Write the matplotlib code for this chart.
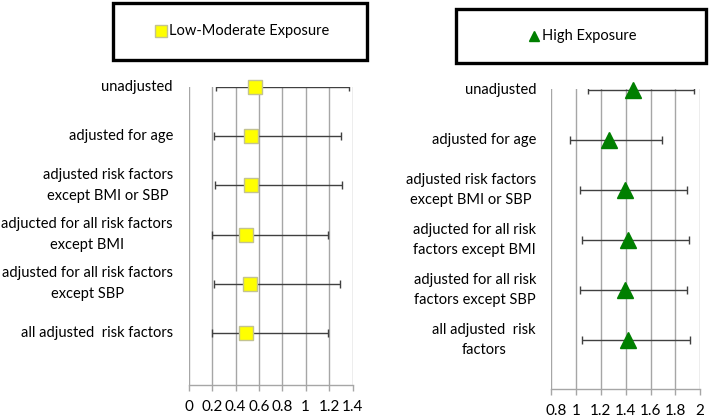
import matplotlib
matplotlib.use("Agg")
import matplotlib.pyplot as plt
import numpy as np
from matplotlib.lines import Line2D
from matplotlib.patches import Rectangle
from matplotlib.transforms import ScaledTranslation

plt.rcParams['font.family'] = ['Lato', 'DejaVu Sans']

W, H = 709, 420
DPI = 100

# ---- data ----
left_labels = ["unadjusted", "adjusted for age", "adjusted risk factors\nexcept BMI or SBP",
               "adjucted for all risk factors\nexcept BMI", "adjusted for all risk factors\nexcept SBP",
               "all adjusted  risk factors"]
right_labels = ["unadjusted", "adjusted for age", "adjusted risk factors\nexcept BMI or SBP",
                "adjucted for all risk\nfactors except BMI", "adjusted for all risk\nfactors except SBP",
                "all adjusted  risk\nfactors"]

low_est = [0.567, 0.535, 0.535, 0.487, 0.527, 0.487]
low_lo = [0.233, 0.219, 0.228, 0.196, 0.219, 0.196]
low_hi = [1.37, 1.30, 1.31, 1.19, 1.29, 1.19]

high_est = [1.459, 1.265, 1.397, 1.416, 1.397, 1.416]
high_lo = [1.098, 0.951, 1.034, 1.048, 1.034, 1.048]
high_hi = [1.951, 1.690, 1.892, 1.910, 1.892, 1.921]

left_ticks = [0, 0.2, 0.4, 0.6, 0.8, 1, 1.2, 1.4]
left_ticklabels = ["0", "0.2", "0.4", "0.6", "0.8", "1", "1.2", "1.4"]
right_ticks = [0.8, 1, 1.2, 1.4, 1.6, 1.8, 2]
right_ticklabels = ["0.8", "1", "1.2", "1.4", "1.6", "1.8", "2"]

fig = plt.figure(figsize=(W / DPI, H / DPI), dpi=DPI)
fig.patch.set_facecolor("white")


def px_axes(x0, x1, ytop, ybot):
    return fig.add_axes([x0 / W, 1 - ybot / H, (x1 - x0) / W, (ybot - ytop) / H])


GRID = "#a6a6a6"
FS = 10.5


def panel(ax, est, lo, hi, ticks, ticklabels, xlim, ylim, marker, mfc, mec, ms):
    n = len(est)
    ypos = np.arange(n, 0, -1)
    est = np.asarray(est); lo = np.asarray(lo); hi = np.asarray(hi)
    ax.set_xlim(*xlim)
    ax.set_ylim(*ylim)
    for t in ticks:
        ax.axvline(t, color=GRID, lw=1.0, zorder=0)
    ax.errorbar(est, ypos, xerr=[est - lo, hi - est], fmt='none', ecolor="#404040",
                elinewidth=1.0, capsize=3, capthick=1.0, zorder=2)
    ax.plot(est, ypos, linestyle='none', marker=marker, ms=ms, mfc=mfc, mec=mec, mew=1.0,
            zorder=3, clip_on=False)
    for s in ['top', 'right', 'left']:
        ax.spines[s].set_visible(False)
    ax.spines['bottom'].set_color(GRID)
    ax.spines['bottom'].set_linewidth(1.0)
    ax.set_xticks(ticks)
    ax.set_xticklabels(ticklabels)
    ax.tick_params(axis='x', length=4, width=1.0, color=GRID, labelsize=FS + 0.5, pad=7,
                   labelcolor="black")
    ax.set_yticks([])
    ax.set_facecolor("none")
    return ypos


axL = px_axes(188.7, 352.5, 87, 385)
yl = panel(axL, low_est, low_lo, low_hi, left_ticks, left_ticklabels,
           (0, 1.4), (-0.06, 6.0), 's', '#ffff00', '#c3c390', 10)
for y, lab in zip(yl, left_labels):
    axL.annotate(lab, xy=(0, y), xycoords=('axes fraction', 'data'), xytext=(173 - 188.7, 0),
                 textcoords='offset pixels', ha='right', va='center', multialignment='center',
                 fontsize=FS, linespacing=1.6)

axR = px_axes(551.3, 700.1, 89, 389)
yr = panel(axR, high_est, high_lo, high_hi, right_ticks, right_ticklabels,
           (0.8, 2.0), (0.02, 6.02), '^', '#007f00', '#007f00', 11)
lab0 = axR.get_xticklabels()[0]
lab0.set_transform(lab0.get_transform() + ScaledTranslation(5 / DPI, 0, fig.dpi_scale_trans))
for y, lab in zip(yr, right_labels):
    axR.annotate(lab, xy=(0, y), xycoords=('axes fraction', 'data'), xytext=(536 - 551.3, 0),
                 textcoords='offset pixels', ha='right', va='center', multialignment='center',
                 fontsize=FS, linespacing=1.6)

# legend boxes
def box(x0, y0, x1, y1):
    fig.patches.append(Rectangle((x0 / W, 1 - y1 / H), (x1 - x0) / W, (y1 - y0) / H,
                                 transform=fig.transFigure, fill=False, ec='black', lw=2.4))

box(113, 3, 367, 60)
box(456, 9, 706, 63)

fig.lines.append(Line2D([161 / W], [1 - 31 / H], transform=fig.transFigure, marker='s', ms=8,
                        mfc='#ffff00', mec='#c3c390', mew=1.0, linestyle='none'))
fig.text(169 / W, 1 - 31 / H, "Low-Moderate Exposure", ha='left', va='center', fontsize=FS)
fig.lines.append(Line2D([534 / W], [1 - 36 / H], transform=fig.transFigure, marker='^', ms=7,
                        mfc='#007f00', mec='#007f00', linestyle='none'))
fig.text(542 / W, 1 - 36 / H, "High Exposure", ha='left', va='center', fontsize=FS)

fig.savefig("out.png", dpi=DPI, facecolor="white")
